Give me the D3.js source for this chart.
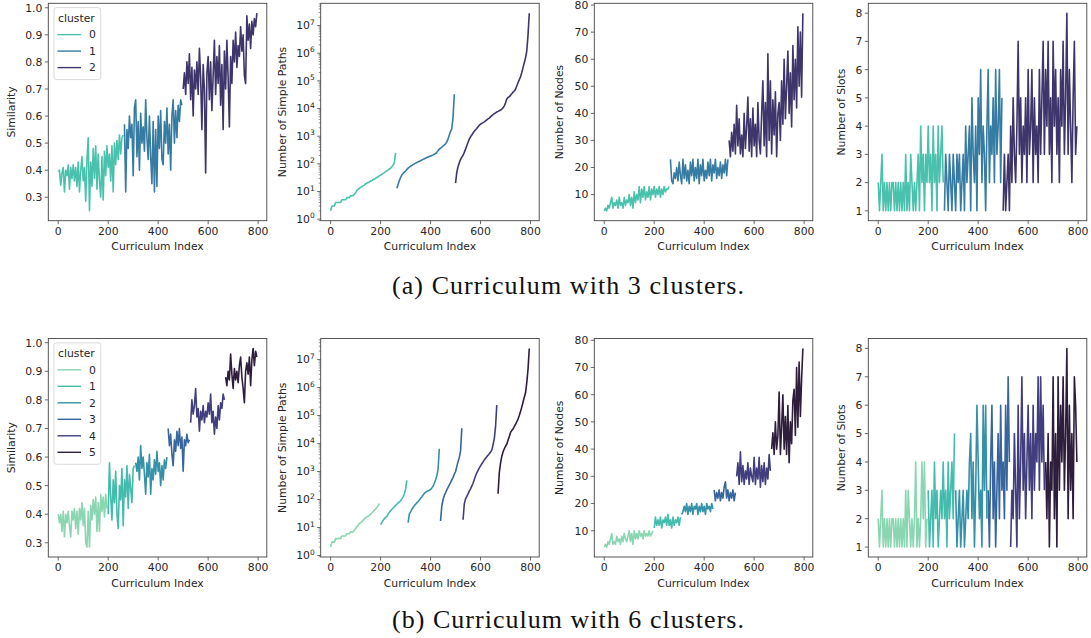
<!DOCTYPE html>
<html lang="en">
<head>
<meta charset="UTF-8">
<title>Curriculum clusters</title>
<script src="https://d3js.org/d3.v7.min.js"></script>
<style>
  body { margin: 0; background: #fff; }
  svg text { font-family: "DejaVu Sans", sans-serif; fill: #262626; }
  .tick-label { font-size: 10.8px; }
  .axis-label { font-size: 10.8px; }
  .legend-text { font-size: 10.8px; }
  .caption { font-family: "Liberation Serif", serif; font-size: 26px; fill: #111; }
  path.series { fill: none; stroke-width: 1.6px; stroke-linejoin: round; }
</style>
</head>
<body>
<svg id="canvas" width="1091" height="638"></svg>
<script>
// curriculum index of the first point of each cluster, one point every 5 curricula
const step = 5;
const starts3 = [0, 265, 500];
const starts6 = [0, 200, 310, 440, 530, 670];
const xTicks = [0, 200, 400, 600, 800];

// ---- curriculum with 3 clusters ----
const similarity3 = [
  [.395,.40,.345,.39,.41,.32,.40,.38,.42,.33,.41,.37,.42,.36,.41,.34,.43,.32,.40,.45,.36,.41,.285,.44,.52,.25,.43,.34,.48,.37,.49,.33,.46,.36,.30,.45,.29,.47,.38,.49,.41,.46,.36,.49,.32,.50,.42,.51,.44,.53,.46,.52,.53],
  [.57,.32,.55,.48,.60,.52,.57,.38,.63,.66,.45,.58,.40,.61,.50,.56,.47,.66,.52,.44,.60,.45,.35,.58,.32,.55,.34,.60,.48,.62,.44,.42,.58,.50,.63,.46,.57,.40,.60,.66,.50,.62,.52,.64,.58,.66,.64],
  [.70,.76,.68,.80,.72,.83,.66,.78,.60,.77,.70,.80,.68,.85,.74,.55,.79,.70,.39,.76,.82,.66,.80,.62,.75,.88,.68,.82,.72,.86,.64,.79,.55,.84,.70,.88,.74,.56,.82,.72,.88,.80,.91,.78,.86,.82,.93,.84,.90,.75,.72,.97,.88,.94,.85,.95,.90,.96,.93,.98]
];
const paths3 = [
  [2,3,3,3,4,4,4,4,4,5,5,5,5,6,6,6,7,7,7,8,9,11,12,13,14,15,16,17,19,20,21,22,24,25,27,28,30,32,34,37,39,42,45,48,52,56,60,65,70,78,90,110,250],
  [13,18,25,32,40,45,50,55,62,70,76,82,88,94,100,106,112,118,124,130,137,145,152,160,168,176,184,192,200,210,222,235,260,300,340,370,400,440,480,530,620,800,1100,1500,1900,5000,33000],
  [20,50,80,110,145,175,205,260,340,450,600,780,950,1100,1300,1500,1700,1900,2200,2500,2700,2900,3100,3300,3600,3900,4200,4500,5000,5500,6000,6500,7000,7500,7900,8300,8800,9500,10500,12500,16000,22000,25000,27000,30000,34000,39000,43000,50000,65000,85000,110000,140000,200000,300000,450000,680000,1200000,4500000,28000000]
];
const nodes3 = [
  [4,5,4,6,5,7,9,5,7,6,8,5,9,6,7,5,9,6,8,7,10,6,9,5,11,7,10,8,13,7,12,9,13,8,11,9,13,8,12,10,13,9,12,10,13,9,12,10,13,11,12,12,13],
  [23,15,14,18,16,20,15,22,17,14,23,16,21,15,19,14,22,17,23,15,20,16,23,14,21,17,23,15,19,16,22,17,23,15,21,18,23,16,20,17,22,16,21,18,23,17,23],
  [30,24,33,26,36,25,43,28,38,25,32,24,40,27,35,46,26,38,24,42,28,36,24,44,30,25,40,52,28,44,24,62,30,52,25,45,32,48,24,40,44,30,52,36,60,38,50,63,40,55,35,65,45,60,42,72,50,70,46,77]
];
const slots3 = [
  [2,1,2,3,1,2,1,2,1,2,1,2,2,1,2,1,2,1,2,1,2,1,3,1,2,1,3,2,1,2,1,2,3,1,4,2,3,1,3,2,4,2,3,1,4,2,3,1,4,2,3,4,2],
  [1,3,2,1,3,2,1,3,2,1,3,2,3,1,2,3,1,4,2,3,4,1,5,3,2,4,1,5,3,6,2,4,3,1,4,6,2,4,3,5,2,6,3,4,6,2,5],
  [1,3,1,2,3,1,4,2,5,3,2,4,7,3,5,2,4,3,5,2,6,3,4,6,2,5,3,4,2,6,3,5,7,3,6,4,7,3,5,2,7,4,6,3,5,2,6,4,7,3,5,8,3,6,4,2,5,7,3,4]
];

// ---- curriculum with 6 clusters ----
const similarity6 = [
  [.40,.37,.40,.34,.41,.32,.40,.37,.41,.36,.32,.41,.38,.42,.35,.41,.33,.42,.38,.44,.36,.42,.30,.285,.41,.285,.43,.38,.45,.40,.46,.34,.44,.34,.47,.41,.46,.39,.47,.42],
  [.40,.58,.46,.38,.52,.44,.55,.40,.35,.50,.45,.56,.36,.52,.46,.57,.42,.54,.49,.44,.56,.57],
  [.58,.55,.60,.52,.64,.56,.60,.54,.47,.58,.53,.61,.47,.56,.52,.59,.54,.62,.55,.58,.50,.57,.52,.59,.56,.60],
  [.70,.64,.68,.61,.57,.66,.62,.69,.64,.70,.63,.67,.55,.66,.64,.68,.65,.66],
  [.72,.80,.75,.78,.84,.74,.77,.69,.76,.73,.78,.72,.76,.74,.79,.75,.82,.72,.76,.68,.74,.70,.78,.73,.79,.77,.82,.80],
  [.88,.85,.90,.87,.96,.89,.84,.91,.87,.90,.86,.92,.95,.88,.84,.79,.90,.93,.89,.95,.85,.94,.98,.92,.97,.95]
];
const paths6 = [
  [2,3,3,3,4,4,4,4,4,5,5,5,5,6,6,6,7,7,7,8,9,11,12,14,15,16,18,20,22,24,25,27,30,33,37,41,46,52,60,72],
  [12.6,15,18,21,23,25,30,35,40,45,50,56,62,68,75,82,90,105,125,160,230,480],
  [15,30,36,44,52,60,68,76,85,96,110,125,145,165,180,195,205,215,230,260,300,380,500,700,1200,6500],
  [17,60,100,140,175,220,270,330,400,500,620,800,1000,1500,2300,3200,5500,35000],
  [19,70,105,130,160,200,240,300,380,520,700,900,1100,1350,1600,1900,2200,2600,3000,3400,3800,4300,5000,5800,9000,15000,40000,235000],
  [160,900,2000,3500,5000,6500,8000,9500,13000,18000,25000,29000,33000,40000,48000,60000,75000,100000,140000,200000,300000,450000,650000,1500000,4500000,25000000]
];
const nodes6 = [
  [4,5,4,6,5,7,9,5,6,5,8,6,7,5,8,6,9,7,6,8,10,6,9,5,10,7,9,7,10,8,9,7,10,8,9,8,10,8,9,10],
  [11,15,12,14,12,15,11,14,13,15,12,16,12,14,11,15,12,14,13,15,12,15],
  [16,17,19,17,20,16,19,17,20,16,19,18,20,16,19,17,20,17,19,16,20,18,19,17,20,18],
  [25,21,24,22,25,21,24,22,26,28,22,25,21,24,22,25,21,24],
  [30,35,27,39,28,34,27,32,29,35,27,33,30,28,37,27,33,29,37,26,34,28,35,27,33,29,38,32],
  [40,46,38,50,40,45,61,38,48,60,40,52,38,56,35,50,42,58,62,45,70,48,72,52,66,77]
];
const slots6 = [
  [2,1,2,3,1,2,1,2,1,2,1,2,2,1,2,1,2,1,2,1,2,1,3,1,3,2,1,2,1,2,4,1,2,1,2,4,2,4,1,2],
  [3,1,2,3,1,4,2,3,1,2,3,2,4,2,3,1,4,2,3,4,2,5],
  [3,1,2,3,1,2,3,1,2,3,2,4,5,2,4,1,3,6,4,2,3,1,6,3,6,2],
  [3,1,4,6,2,4,1,3,5,2,6,3,4,2,6,3,7,4],
  [1,3,2,5,3,1,6,2,4,7,3,5,2,4,6,3,5,2,6,3,5,4,7,3,7,4,6,3],
  [4,2,5,1,4,3,7,2,5,1,7,3,6,4,7,3,5,8,2,6,3,5,2,7,6,4]
];

const colors3 = ['#49c1ad', '#357ba2', '#3e356b'];
const colors6 = ['#8ad6b1', '#43bbad', '#3491a8', '#37659e', '#413e7e', '#2e1e3c'];

const rows = [
  { data: [similarity3, paths3, nodes3, slots3], starts: starts3, colors: colors3,
    top: 3.3, bottom: 220.7, caption: '(a) Curriculum with 3 clusters.', captionY: 294 },
  { data: [similarity6, paths6, nodes6, slots6], starts: starts6, colors: colors6,
    top: 338.5, bottom: 557, caption: '(b) Curriculum with 6 clusters.', captionY: 628 }
];
const metrics = [
  { label: 'Similarity', log: false, ticks: d3.range(0.3, 1.01, 0.1), fmt: d3.format('.1f'), labelOff: 33 },
  { label: 'Number of Simple Paths', log: true, ticks: d3.range(0, 8).map(k => Math.pow(10, k)), labelOff: 35 },
  { label: 'Number of Nodes', log: false, ticks: d3.range(10, 81, 10), fmt: d3.format('d'), labelOff: 31 },
  { label: 'Number of Slots', log: false, ticks: d3.range(1, 9), fmt: d3.format('d'), labelOff: 23.3 }
];
const lefts = [48.3, 320.7, 594.3, 868.3];
const panelW = 218.5;
const axisColor = '#444';

let svg = d3.select('#canvas');

// matplotlib-style 5% margins
function padded(lo, hi) { let p = (hi - lo) * 0.05; return [lo - p, hi + p]; }

rows.forEach(function(row) {
  let lastIdx = row.starts[row.starts.length - 1] + (row.data[0][row.starts.length - 1].length - 1) * step;
  let x = d3.scaleLinear().domain(padded(0, lastIdx)).range([0, panelW]);
  let h = row.bottom - row.top;

  metrics.forEach(function(m, pi) {
    let series = row.data[pi];
    let all = series.flat();
    let y;
    if (m.log) {
      let ld = padded(Math.log10(d3.min(all)), Math.log10(d3.max(all)));
      y = d3.scaleLog().domain([Math.pow(10, ld[0]), Math.pow(10, ld[1])]).range([h, 0]);
    } else {
      y = d3.scaleLinear().domain(padded(d3.min(all), d3.max(all))).range([h, 0]);
    }

    let g = svg.append('g').attr('transform', 'translate(' + lefts[pi] + ',' + row.top + ')');

    // lines, one per cluster
    let line = d3.line().x(d => x(d.i)).y(d => y(d.v));
    series.forEach(function(vals, c) {
      let pts = vals.map((v, k) => ({ i: row.starts[c] + k * step, v: v }));
      g.append('path').attr('class', 'series')
        .attr('d', line(pts))
        .attr('stroke', row.colors[c]);
    });

    // x ticks
    xTicks.forEach(function(t) {
      g.append('line').attr('x1', x(t)).attr('x2', x(t)).attr('y1', h).attr('y2', h + 3.5)
        .attr('stroke', axisColor).attr('stroke-width', 0.8);
      g.append('text').attr('class', 'tick-label').attr('x', x(t)).attr('y', h + 14)
        .attr('text-anchor', 'middle').text(t);
    });
    g.append('text').attr('class', 'axis-label').attr('x', panelW / 2).attr('y', h + 29.5)
      .attr('text-anchor', 'middle').text('Curriculum Index');

    // y ticks
    if (m.log) {
      let dom = y.domain();
      for (let k = -1; k < 9; k++) {
        for (let j = 2; j < 10; j++) {
          let v = j * Math.pow(10, k);
          if (v < dom[0] || v > dom[1]) continue;
          g.append('line').attr('x1', -2).attr('x2', 0).attr('y1', y(v)).attr('y2', y(v))
            .attr('stroke', axisColor).attr('stroke-width', 0.6);
        }
      }
    }
    m.ticks.forEach(function(t) {
      g.append('line').attr('x1', -3.5).attr('x2', 0).attr('y1', y(t)).attr('y2', y(t))
        .attr('stroke', axisColor).attr('stroke-width', 0.8);
      let txt = g.append('text').attr('class', 'tick-label').attr('x', -6).attr('y', y(t) + 3.9)
        .attr('text-anchor', 'end');
      if (m.log) {
        txt.append('tspan').text('10');
        txt.append('tspan').attr('dy', -4.8).attr('font-size', '7.5px').text(Math.round(Math.log10(t)));
      } else {
        txt.text(m.fmt(t));
      }
    });
    g.append('text').attr('class', 'axis-label')
      .attr('transform', 'translate(' + (-m.labelOff) + ',' + (h / 2) + ') rotate(-90)')
      .attr('text-anchor', 'middle').text(m.label);

    // frame
    g.append('rect').attr('width', panelW).attr('height', h)
      .attr('fill', 'none').attr('stroke', axisColor).attr('stroke-width', 0.9);

    // legend in the first panel
    if (pi === 0) {
      let n = series.length;
      let lg = g.append('g').attr('transform', 'translate(5.7,4.3)');
      lg.append('rect').attr('width', 46.7).attr('height', 27 + (n - 1) * 16.5 + 12)
        .attr('rx', 2.5).attr('fill', '#fff').attr('fill-opacity', 0.8)
        .attr('stroke', '#d0d0d0').attr('stroke-width', 0.8);
      lg.append('text').attr('class', 'legend-text').attr('x', 4).attr('y', 14).text('cluster');
      for (let c = 0; c < n; c++) {
        let cy = 27 + c * 16.5;
        lg.append('line').attr('x1', 3.5).attr('x2', 27).attr('y1', cy).attr('y2', cy)
          .attr('stroke', row.colors[c]).attr('stroke-width', 1.4);
        lg.append('text').attr('class', 'legend-text').attr('x', 35).attr('y', cy + 3.9).text(c);
      }
    }
  });

  svg.append('text').attr('class', 'caption').attr('x', 568).attr('y', row.captionY)
    .attr('text-anchor', 'middle').attr('textLength', 352).attr('lengthAdjust', 'spacing')
    .text(row.caption);
});
</script>
</body>
</html>
